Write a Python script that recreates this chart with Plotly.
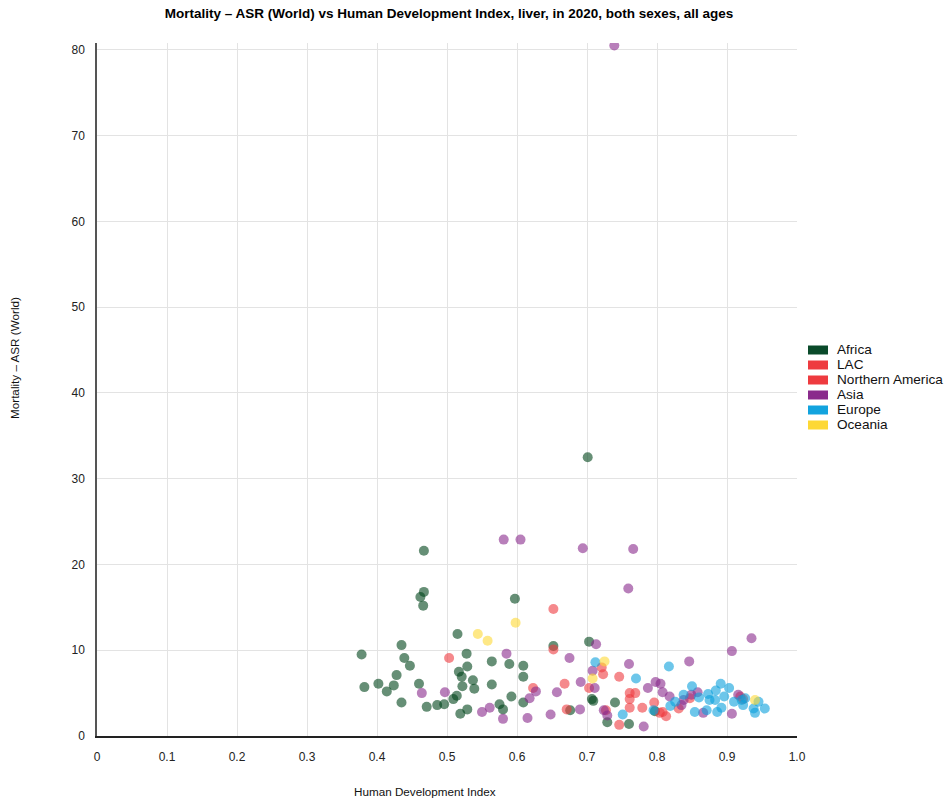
import plotly.graph_objects as go

# ---- data: HDI (x) and liver-cancer mortality ASR (World) per 100 000 (y) ----
regions = ["Africa", "LAC", "Northern America", "Asia", "Europe", "Oceania"]
legend_colors = ["#0a4a2a", "#ee3b3f", "#ee3b3f", "#8a2b8c", "#12a3de", "#fdd835"]
marker_colors = ["#00441b", "#ee3b3f", "#ee3b3f", "#882a8c", "#0ba0dc", "#fdd835"]

africa_hdi = [0.467, 0.467, 0.462, 0.466, 0.597, 0.515, 0.435, 0.378, 0.528, 0.439,
              0.447, 0.529, 0.564, 0.589, 0.609, 0.652, 0.517, 0.521, 0.428, 0.537,
              0.609, 0.382, 0.402, 0.414, 0.424, 0.460, 0.522, 0.539, 0.564, 0.435,
              0.471, 0.486, 0.496, 0.509, 0.514, 0.519, 0.529, 0.575, 0.580, 0.592,
              0.609, 0.676, 0.701, 0.703, 0.707, 0.709, 0.740, 0.729, 0.760, 0.797]
africa_asr = [21.6, 16.8, 16.2, 15.2, 16.0, 11.9, 10.6, 9.5, 9.6, 9.1,
              8.2, 8.1, 8.7, 8.4, 8.2, 10.5, 7.5, 6.9, 7.1, 6.5,
              6.9, 5.7, 6.1, 5.2, 5.9, 6.1, 5.8, 5.5, 6.0, 3.9,
              3.4, 3.6, 3.7, 4.3, 4.7, 2.6, 3.1, 3.7, 3.1, 4.6,
              3.9, 3.0, 32.5, 11.0, 4.3, 4.1, 3.9, 1.6, 1.4, 2.9]

lac_hdi = [0.503, 0.652, 0.652, 0.623, 0.668, 0.671, 0.703, 0.721, 0.723, 0.746,
           0.761, 0.769, 0.761, 0.761, 0.779, 0.746, 0.727, 0.796, 0.804, 0.813,
           0.831, 0.847, 0.808]
lac_asr = [9.1, 14.8, 10.1, 5.6, 6.1, 3.1, 5.6, 8.0, 7.2, 6.9,
           5.0, 5.0, 4.3, 3.3, 3.3, 1.3, 3.0, 3.9, 2.7, 2.3,
           3.2, 4.4, 2.8]

namerica_hdi = [0.919, 0.923]
namerica_asr = [4.6, 4.3]

asia_hdi = [0.739, 0.581, 0.605, 0.694, 0.766, 0.759, 0.935, 0.907, 0.713, 0.846,
            0.760, 0.585, 0.675, 0.708, 0.691, 0.711, 0.657, 0.627, 0.618, 0.464,
            0.497, 0.550, 0.561, 0.580, 0.615, 0.648, 0.690, 0.724, 0.729, 0.781,
            0.787, 0.798, 0.805, 0.808, 0.818, 0.838, 0.835, 0.849, 0.858, 0.866,
            0.907, 0.916]
asia_asr = [80.5, 22.9, 22.9, 21.9, 21.8, 17.2, 11.4, 9.9, 10.7, 8.7,
            8.4, 9.6, 9.1, 7.6, 6.3, 5.6, 5.1, 5.2, 4.4, 5.0,
            5.1, 2.8, 3.3, 2.0, 2.1, 2.5, 3.1, 3.0, 2.4, 1.1,
            5.6, 6.3, 6.1, 5.1, 4.6, 4.2, 3.6, 4.8, 5.1, 2.7,
            2.6, 4.8]

europe_hdi = [0.712, 0.770, 0.817, 0.751, 0.795, 0.819, 0.826, 0.850, 0.891, 0.903,
              0.884, 0.873, 0.838, 0.854, 0.871, 0.886, 0.892, 0.860, 0.875, 0.883,
              0.896, 0.910, 0.921, 0.926, 0.938, 0.940, 0.945, 0.954, 0.923]
europe_asr = [8.6, 6.7, 8.1, 2.5, 3.0, 3.5, 4.0, 5.8, 6.1, 5.6,
              5.3, 4.9, 4.8, 2.8, 3.0, 2.8, 3.3, 4.5, 4.2, 4.2,
              4.6, 4.0, 4.2, 4.4, 3.2, 2.7, 4.0, 3.2, 3.6]

oceania_hdi = [0.544, 0.558, 0.598, 0.725, 0.708, 0.940]
oceania_asr = [11.9, 11.1, 13.2, 8.7, 6.7, 4.2]

series_x = [africa_hdi, lac_hdi, namerica_hdi, asia_hdi, europe_hdi, oceania_hdi]
series_y = [africa_asr, lac_asr, namerica_asr, asia_asr, europe_asr, oceania_asr]

x_ticks = [0, 0.1, 0.2, 0.3, 0.4, 0.5, 0.6, 0.7, 0.8, 0.9, 1.0]
x_tick_text = ["0", "0.1", "0.2", "0.3", "0.4", "0.5", "0.6", "0.7", "0.8", "0.9", "1.0"]
y_ticks = [0, 10, 20, 30, 40, 50, 60, 70, 80]

# ---- figure geometry (pixels) ----
W, H = 950, 800
L, R, T, B = 97, 797, 43, 736
FONT = "Liberation Sans, Arial, sans-serif"


def px_x(px):
    return (px - L) / (R - L)


def px_y(py):
    return (B - py) / (B - T)


fig = go.Figure()
for name, color, xs, ys in zip(regions, marker_colors, series_x, series_y):
    fig.add_trace(go.Scatter(
        x=xs, y=ys, mode="markers", name=name, showlegend=False,
        marker=dict(size=10, color=color, opacity=0.6, line=dict(width=0)),
    ))

# legend: colour swatches with labels on the right
shapes = []
annotations = []
for i, (name, color) in enumerate(zip(regions, legend_colors)):
    cy = 350 + 15 * i
    shapes.append(dict(type="rect", xref="paper", yref="paper",
                       x0=px_x(808), x1=px_x(828), y0=px_y(cy + 4.5), y1=px_y(cy - 4.5),
                       fillcolor=color, line=dict(width=0)))
    annotations.append(dict(xref="paper", yref="paper", x=px_x(834.5), y=px_y(cy - 0.5),
                            xanchor="left", yanchor="middle", showarrow=False,
                            text=name, font=dict(family=FONT, size=13.6, color="#111")))

# axis titles
annotations.append(dict(xref="paper", yref="paper", x=px_x(425), y=px_y(791),
                        xanchor="center", yanchor="middle", showarrow=False,
                        text="Human Development Index",
                        font=dict(family=FONT, size=11.7, color="#111")))
annotations.append(dict(xref="paper", yref="paper", x=px_x(14), y=px_y(358),
                        xanchor="center", yanchor="middle", showarrow=False, textangle=-90,
                        text="Mortality – ASR (World)",
                        font=dict(family=FONT, size=11.7, color="#111")))

fig.update_layout(
    width=W, height=H, autosize=False,
    margin=dict(l=L, r=W - R, t=T, b=H - B, pad=0),
    paper_bgcolor="white", plot_bgcolor="white",
    font=dict(family=FONT, size=12, color="#222"),
    title=dict(text="<b>Mortality – ASR (World) vs Human Development Index, liver, in 2020, both sexes, all ages</b>",
               x=px_x(449), xref="paper", xanchor="center",
               y=1 - 13 / H, yref="container", yanchor="middle",
               font=dict(family=FONT, size=13.5, color="#000")),
    xaxis=dict(range=[0, 1.0], tickvals=x_ticks, ticktext=x_tick_text,
               showgrid=True, gridcolor="#e3e3e3", gridwidth=1,
               zeroline=False, showline=True, linecolor="#222", linewidth=2,
               ticks="", ticklabelstandoff=9, tickfont=dict(size=12, color="#222"),
               fixedrange=True),
    yaxis=dict(range=[0, 80.8], tickvals=y_ticks,
               showgrid=True, gridcolor="#e3e3e3", gridwidth=1,
               zeroline=False, showline=True, linecolor="#555", linewidth=1.5,
               ticks="", ticklabelstandoff=8, tickfont=dict(size=12, color="#222"),
               fixedrange=True),
    shapes=shapes, annotations=annotations, showlegend=False,
)

fig.write_html("out.html")
